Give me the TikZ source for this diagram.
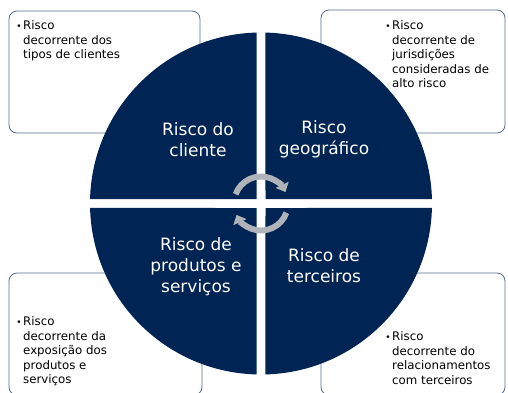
\documentclass[tikz,border=0pt]{standalone}
\usepackage{fontspec}
\setmainfont{DejaVu Sans}
\usetikzlibrary{arrows.meta}
\definecolor{riskblue}{RGB}{0,36,84}
\definecolor{boxline}{RGB}{84,108,146}
\definecolor{cyclegray}{RGB}{176,180,186}
\begin{document}
\begin{tikzpicture}[x=1pt,y=1pt]
\tikzstyle{every node}=[inner sep=0pt]
\tikzstyle{box}=[draw=boxline,line width=0.8pt,rounded corners=8pt,fill=white]
\tikzstyle{note}=[anchor=north west,align=left,font=\fontsize{11.8}{14.5}\selectfont]
\tikzstyle{risk}=[text=white,align=center,font=\fontsize{17}{21}\selectfont]
\tikzstyle{cycle}=[cyclegray,line width=6pt,-{Triangle[length=8pt,width=14pt]}]
\useasboundingbox (-261,-188.5) rectangle (247,203.5);
% caixas
\draw[box] (-252,70.5) rectangle (-61,192.5);
\draw[box] (60,70.5) rectangle (244,193.5);
\draw[box] (-252,-191.5) rectangle (-59,-69.5);
\draw[box] (60,-191.5) rectangle (244,-69.5);
% quadrantes
\foreach \a in {0,90,180,270}
\fill[riskblue,rotate=\a] (4.5,4.5) -- (1.5:171pt) arc[start angle=1.5,end angle=88.5,radius=171pt] -- cycle;
% setas
\draw[cycle] (160:27pt) arc[start angle=160,end angle=25,radius=27pt];
\draw[cycle] (-20:27pt) arc[start angle=-20,end angle=-155,radius=27pt];
% textos
\node[risk] (cliente) at (-63,64) {Risco do\\cliente};
\node[risk] (geografico) at (63,64) {Risco\\geográfico};
\node[risk] (produtos) at (-65,-63) {Risco de\\produtos e\\serviços};
\node[risk] (terceiros) at (63,-62) {Risco de\\terceiros};
\node[note] (n-cliente) at (-238,183) {\llap{\small•\hspace{1.5pt}}Risco\\decorrente dos\\tipos de clientes};
\node[note] (n-geografico) at (131,183) {\llap{\small•\hspace{1.5pt}}Risco\\decorrente de\\jurisdições\\consideradas de\\alto risco};
\node[note] (n-produtos) at (-238,-113) {\llap{\small•\hspace{1.5pt}}Risco\\decorrente da\\exposição dos\\produtos e\\serviços};
\node[note] (n-terceiros) at (131,-128) {\llap{\small•\hspace{1.5pt}}Risco\\decorrente do\\relacionamentos\\com terceiros};
\end{tikzpicture}
\end{document}
